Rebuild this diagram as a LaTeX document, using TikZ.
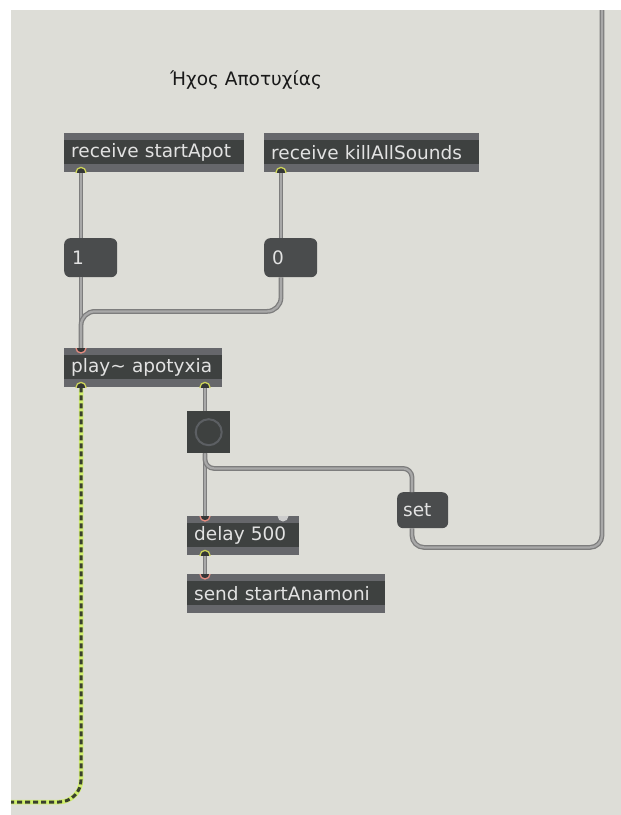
\documentclass[tikz,border=0pt]{standalone}
\usepackage{fontspec}
\setmainfont{DejaVu Sans}
\usetikzlibrary{calc}
\definecolor{bgc}{RGB}{221,221,215}
\definecolor{bandc}{RGB}{102,103,107}
\definecolor{bodyc}{RGB}{62,65,64}
\definecolor{msgc}{RGB}{74,76,77}
\definecolor{txtc}{RGB}{226,226,226}
\definecolor{titlec}{RGB}{25,25,25}
\definecolor{cordedge}{RGB}{125,125,125}
\definecolor{cordin}{RGB}{168,168,168}
\definecolor{outc}{RGB}{205,212,90}
\definecolor{inc}{RGB}{228,140,128}
\definecolor{ringfill}{RGB}{52,54,54}
\definecolor{sigy}{RGB}{208,238,110}
\definecolor{sigd}{RGB}{58,64,46}
\definecolor{bangring}{RGB}{92,95,99}
\definecolor{greyin}{RGB}{205,205,205}
\newcommand\outring[2]{\begin{scope}\clip (#2.south west) rectangle (#2.north east);
  \draw[fill=ringfill, draw=outc, line width=1.3pt] (#1) circle[radius=5pt];\end{scope}}
\newcommand\inring[2]{\begin{scope}\clip (#2.south west) rectangle (#2.north east);
  \draw[fill=ringfill, draw=inc, line width=1.3pt] (#1) circle[radius=5pt];\end{scope}}
\begin{document}
\begin{tikzpicture}[x=1pt,y=-1pt,
  every node/.style={font=\fontsize{18.5}{20}\selectfont},
  objbox/.style={anchor=north west, fill=bandc, text=txtc, minimum height=39pt,
    inner xsep=7pt, inner ysep=0pt, align=left,
    path picture={\fill[bodyc] ([yshift=-7pt]path picture bounding box.north west)
      rectangle ([yshift=8pt]path picture bounding box.south east);}},
  msgbox/.style={anchor=north west, fill=msgc, text=txtc, minimum height=39pt,
    rounded corners=6pt, inner xsep=8pt, inner ysep=0pt, align=left},
  bangbox/.style={anchor=north west, fill=bodyc, minimum width=43pt, minimum height=42pt, inner sep=0pt},
  cord/.style={draw=cordedge, line width=1.3pt, double=cordin, double distance=2.2pt},
  sigbase/.style={draw=sigy, line width=4.5pt},
  sigdash/.style={draw=sigd, line width=3pt, dash pattern=on 5pt off 3pt}
]
\useasboundingbox (0,0) rectangle (621,815);
\fill[white] (0,0) rectangle (621,815);
\fill[bgc] (11,10) rectangle (621,815);

% title
\node[text=titlec] (title) at (246,80) {Ήχος Αποτυχίας};

% boxes
\node[objbox, text width=166pt] (rs) at (64,133) {receive startApot};
\node[objbox, text width=201pt] (rk) at (264,133) {receive killAllSounds};
\node[msgbox, text width=37pt] (m1) at (64,238) {1};
\node[msgbox, text width=37pt] (m0) at (264,238) {0};
\node[objbox, text width=144pt] (play) at (64,348) {play\textasciitilde{} apotyxia};
\node[bangbox] (bang) at (187,411) {};
\node[circle, draw=bangring, line width=2pt, minimum size=26pt, inner sep=0pt] (bangc) at (bang.center) {};
\node[msgbox, text width=39pt, inner xsep=6pt, minimum height=36pt] (set) at (397,492) {set};
\node[objbox, text width=98pt] (delay) at (187,516) {delay 500};
\node[objbox, text width=184pt] (send) at (187,574) {send startAnamoni};

% ports
\coordinate (rs-o) at ($(rs.south west)+(17,0)$);
\coordinate (rk-o) at ($(rk.south west)+(17,0)$);
\coordinate (m1-i) at ($(m1.north west)+(17,0)$);
\coordinate (m1-o) at ($(m1.south west)+(17,0)$);
\coordinate (m0-i) at ($(m0.north west)+(17,0)$);
\coordinate (m0-o) at ($(m0.south west)+(17,0)$);
\coordinate (play-i) at ($(play.north west)+(17,0)$);
\coordinate (play-o1) at ($(play.south west)+(17,0)$);
\coordinate (play-o2) at ($(play.south west)+(141,0)$);
\coordinate (bang-i) at ($(bang.north west)+(18,0)$);
\coordinate (bang-o) at ($(bang.south west)+(18,0)$);
\coordinate (set-i) at ($(set.north west)+(15,0)$);
\coordinate (set-o) at ($(set.south west)+(15,0)$);
\coordinate (delay-i) at ($(delay.north west)+(18,0)$);
\coordinate (delay-i2) at ($(delay.north west)+(96,0)$);
\coordinate (delay-o) at ($(delay.south west)+(18,0)$);
\coordinate (send-i) at ($(send.north west)+(18,0)$);
\coordinate (topR) at (602,10);
\coordinate (sigEnd) at (11,802);

% cords
\draw[cord] (rs-o) -- (m1-i);
\draw[cord] (rk-o) -- (m0-i);
\draw[cord] (m1-o) -- (play-i);
\draw[cord, rounded corners=14pt] (m0-o) -- ++(0,34) -| (play-i);
\draw[cord] (play-o2) -- (bang-i);
\draw[cord] (bang-o) -- (delay-i);
\draw[cord, rounded corners=9pt] (bang-o) -- ++(0,15) -| (set-i);
\draw[cord, rounded corners=12pt] (set-o) -- ++(0,19) -| (topR);
\draw[cord] (delay-o) -- (send-i);
\draw[sigbase, rounded corners=22pt] (play-o1) |- (sigEnd);
\draw[sigdash, rounded corners=22pt] (play-o1) |- (sigEnd);

% rings
\outring{rs-o}{rs}
\outring{rk-o}{rk}
\inring{play-i}{play}
\outring{play-o1}{play}
\outring{play-o2}{play}
\inring{delay-i}{delay}
\outring{delay-o}{delay}
\inring{send-i}{send}
\begin{scope}\clip (delay.south west) rectangle (delay.north east);
  \fill[greyin] (delay-i2) circle[radius=5.5pt];\end{scope}
\end{tikzpicture}
\end{document}
